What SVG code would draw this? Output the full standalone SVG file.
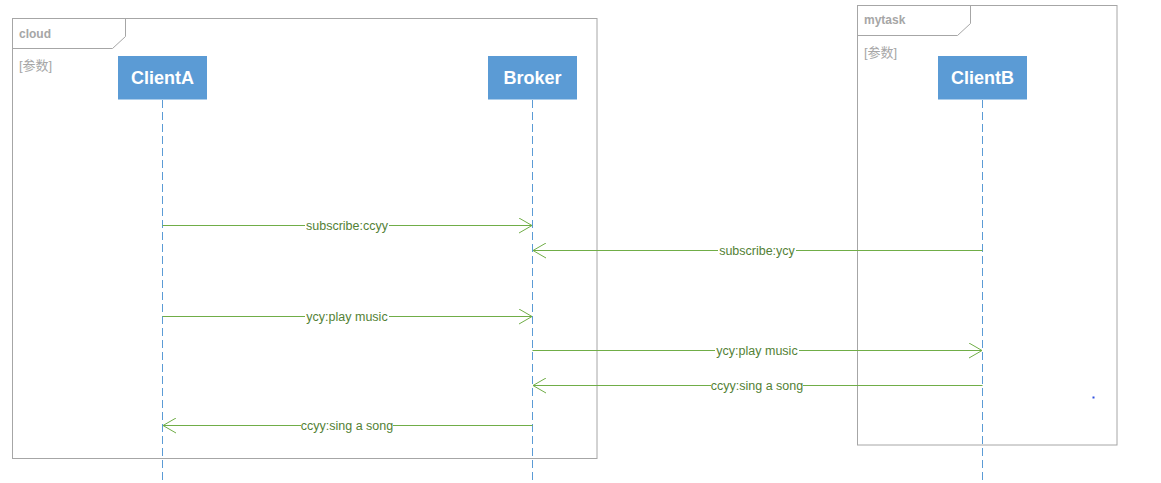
<svg xmlns="http://www.w3.org/2000/svg" width="1161" height="483" viewBox="0 0 1161 483">
<style>
.frame{fill:none;stroke:#A6A6A6;stroke-width:1}
.ftitle{font-family:"Liberation Sans",Arial,sans-serif;font-size:12px;font-weight:bold;fill:#A6A6A6}
.param{font-family:"Liberation Sans","Noto Sans CJK SC",sans-serif;font-size:13px;fill:#A6A6A6}
.box{fill:#5B9BD5}
.btext{font-family:"Liberation Sans",Arial,sans-serif;font-size:18px;font-weight:bold;fill:#FFFFFF;text-anchor:middle}
.life{stroke:#5B9BD5;stroke-width:1;stroke-dasharray:8 4;fill:none}
.msg{stroke:#70AD47;stroke-width:1;fill:none;marker-end:url(#arr)}
.lbl{font-family:"Liberation Sans",Arial,sans-serif;font-size:12.5px;fill:#538135;text-anchor:middle}
.lblbg{fill:#FFFFFF}
</style>
<defs>
<marker id="arr" viewBox="0 0 14 16" refX="13" refY="8" markerWidth="14" markerHeight="16" markerUnits="userSpaceOnUse" orient="auto">
<path d="M0,0.5 L13,8 L0,15.5" fill="none" stroke="#70AD47" stroke-width="1"/>
</marker>
</defs>
<rect width="1161" height="483" fill="#FFFFFF"/>
<g id="frame-cloud">
<rect class="frame" x="12.5" y="18.5" width="584.5" height="440"/>
<path class="frame" d="M12.5,48.5 H112.5 L125.5,36.5 V18.5"/>
<text class="ftitle" x="19" y="38">cloud</text>
<text class="param" x="19" y="70">[参数]</text>
</g>
<g id="frame-mytask">
<rect class="frame" x="857.5" y="5.5" width="259.5" height="439.5"/>
<path class="frame" d="M857.5,35.5 H957.5 L970.5,23.5 V5.5"/>
<text class="ftitle" x="864" y="24">mytask</text>
<text class="param" x="864" y="57">[参数]</text>
</g>
<g id="lifelines">
<line class="life" x1="162.5" y1="100" x2="162.5" y2="483"/>
<line class="life" x1="532.5" y1="100" x2="532.5" y2="483"/>
<line class="life" x1="982.5" y1="100" x2="982.5" y2="483"/>
</g>
<g id="node-clientA">
<rect class="box" x="118" y="56" width="89" height="43.5"/>
<text class="btext" x="162.5" y="84">ClientA</text>
</g>
<g id="node-broker">
<rect class="box" x="488" y="56" width="89" height="43.5"/>
<text class="btext" x="532.5" y="84">Broker</text>
</g>
<g id="node-clientB">
<rect class="box" x="938" y="56" width="89" height="43.5"/>
<text class="btext" x="982.5" y="84">ClientB</text>
</g>
<g id="connectors">
<line class="msg" x1="162.5" y1="225.5" x2="532" y2="225.5"/>
<rect class="lblbg" x="305" y="218" width="84" height="15"/>
<text class="lbl" x="347" y="229.5">subscribe:ccyy</text>

<line class="msg" x1="982.5" y1="250.5" x2="533" y2="250.5"/>
<rect class="lblbg" x="718" y="243" width="78" height="15"/>
<text class="lbl" x="757" y="254.5">subscribe:ycy</text>

<line class="msg" x1="162.5" y1="316.5" x2="532" y2="316.5"/>
<rect class="lblbg" x="305" y="309" width="84" height="15"/>
<text class="lbl" x="347" y="320.5">ycy:play music</text>

<line class="msg" x1="532.5" y1="350.5" x2="982" y2="350.5"/>
<rect class="lblbg" x="715" y="343" width="84" height="15"/>
<text class="lbl" x="757" y="354.5">ycy:play music</text>

<line class="msg" x1="982.5" y1="385.5" x2="533" y2="385.5"/>
<rect class="lblbg" x="711" y="378" width="92" height="15"/>
<text class="lbl" x="757" y="389.5">ccyy:sing a song</text>

<line class="msg" x1="532.5" y1="425.5" x2="163" y2="425.5"/>
<rect class="lblbg" x="301" y="418" width="92" height="15"/>
<text class="lbl" x="347" y="429.5">ccyy:sing a song</text>
</g>
<rect x="1092.5" y="396.5" width="2" height="2" fill="#3050E0"/>
</svg>
